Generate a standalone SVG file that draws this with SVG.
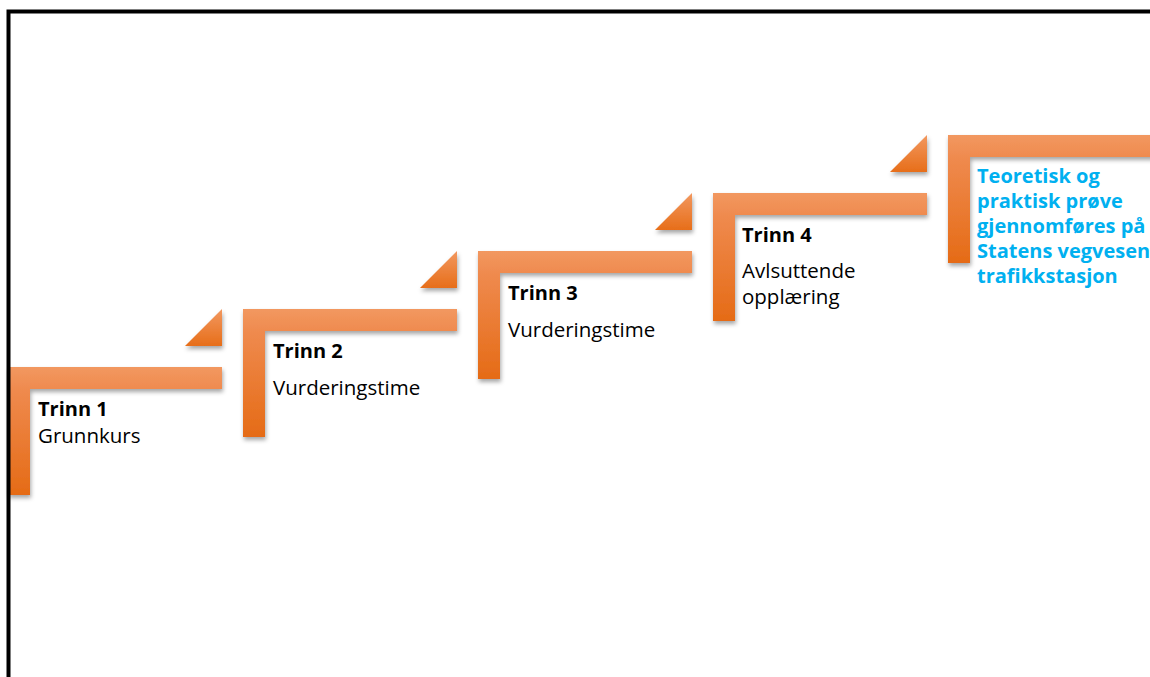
<svg xmlns="http://www.w3.org/2000/svg" width="1150" height="677" viewBox="0 0 1150 677">
<defs>
<linearGradient id="gL" x1="0" y1="0" x2="0" y2="1">
<stop offset="0" stop-color="#F29860"/>
<stop offset="0.18" stop-color="#EF8A4E"/>
<stop offset="1" stop-color="#E56B16"/>
</linearGradient>
<linearGradient id="gT" x1="0" y1="0" x2="0" y2="1">
<stop offset="0" stop-color="#F29860"/>
<stop offset="1" stop-color="#E76E19"/>
</linearGradient>
<filter id="sh" x="-10%" y="-10%" width="130%" height="130%">
<feDropShadow dx="1" dy="3" stdDeviation="2" flood-color="#000" flood-opacity="0.35"/>
</filter>
<path id="L" d="M0 0 H214 V22 H22 V128 H0 Z"/>
<path id="T" d="M37 0 V37 H0 Z"/>
</defs>
<style>
.h{font-family:"Open Sans","Liberation Sans",sans-serif;font-size:20px;font-weight:bold;fill:#000}
.b{font-family:"Open Sans","Liberation Sans",sans-serif;font-size:20.5px;fill:#000}
.c{font-family:"Open Sans","Liberation Sans",sans-serif;font-size:20px;font-weight:bold;fill:#00B0F0}
.l{fill:url(#gL);filter:url(#sh)}
.t{fill:url(#gT);filter:url(#sh)}
</style>
<rect width="1150" height="677" fill="#fff"/>
<g id="connectors">
<use href="#T" class="t" x="185" y="309"/>
<use href="#T" class="t" x="420" y="251"/>
<use href="#T" class="t" x="655" y="193"/>
<use href="#T" class="t" x="890" y="135"/>
</g>
<g id="step1">
<use href="#L" class="l" x="8" y="367"/>
<text class="h" x="38" y="416">Trinn 1</text>
<text class="b" x="38" y="443">Grunnkurs</text>
</g>
<g id="step2">
<use href="#L" class="l" x="243" y="309"/>
<text class="h" x="273" y="358">Trinn 2</text>
<text class="b" x="273" y="395">Vurderingstime</text>
</g>
<g id="step3">
<use href="#L" class="l" x="478" y="251"/>
<text class="h" x="508" y="300">Trinn 3</text>
<text class="b" x="508" y="337">Vurderingstime</text>
</g>
<g id="step4">
<use href="#L" class="l" x="713" y="193"/>
<text class="h" x="742" y="242">Trinn 4</text>
<text class="b" x="742" y="278">Avlsuttende</text>
<text class="b" x="742" y="304">opplæring</text>
</g>
<g id="step5">
<use href="#L" class="l" x="948" y="135"/>
<text class="c" x="977" y="183">Teoretisk og</text>
<text class="c" x="977" y="208">praktisk prøve</text>
<text class="c" x="977" y="233">gjennomføres på</text>
<text class="c" x="977" y="258">Statens vegvesen</text>
<text class="c" x="977" y="283">trafikkstasjon</text>
</g>
<path id="frame" d="M8.5 677 V11.5 H1150" fill="none" stroke="#000" stroke-width="4"/>
</svg>
